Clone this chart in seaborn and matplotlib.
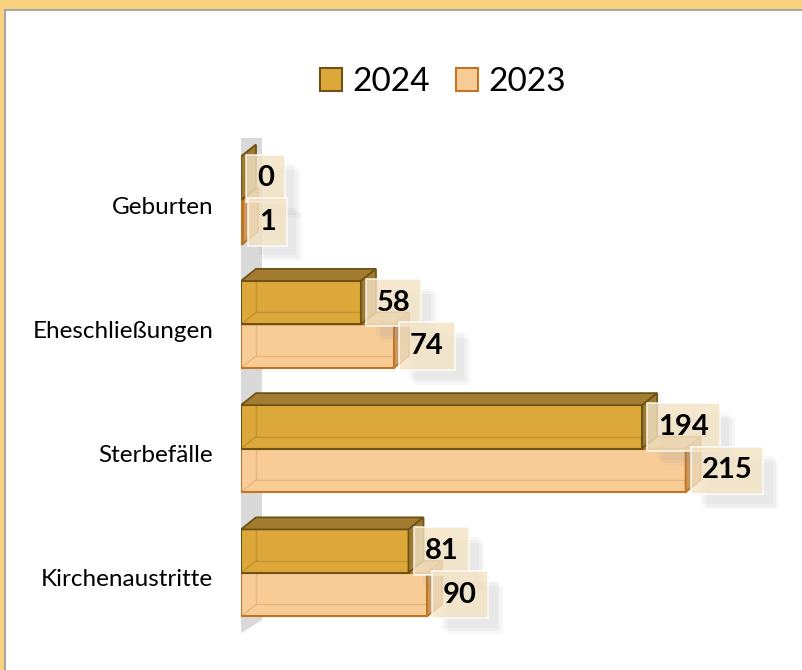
import matplotlib
matplotlib.use("Agg")
import matplotlib.pyplot as plt
import numpy as np
import pandas as pd
import seaborn as sns
from matplotlib.patches import Polygon, Rectangle, Patch
from matplotlib.transforms import IdentityTransform, ScaledTranslation
import matplotlib.patheffects as pe

# ---- data ----
categories = ["Geburten", "Eheschließungen", "Sterbefälle", "Kirchenaustritte"]
years = ["2024", "2023"]
values_2024 = [0, 58, 194, 81]
values_2023 = [1, 74, 215, 90]

df = pd.DataFrame({
    "Kategorie": categories * 2,
    "Jahr": ["2024"] * len(categories) + ["2023"] * len(categories),
    "Wert": values_2024 + values_2023,
})

# ---- style ----
sns.set_style("white")
plt.rcParams["font.family"] = ["Lato", "DejaVu Sans"]
plt.rcParams["text.color"] = "black"

W, H = 803, 670
DPI = 100
fig = plt.figure(figsize=(W / DPI, H / DPI), dpi=DPI, facecolor="#FAD27F")
# white chart area with thin grey frame
fig.add_artist(Rectangle((5.5 / W, -0.05), 1.0, (H - 9.5) / H + 0.05,
                         transform=fig.transFigure, facecolor="white",
                         edgecolor="#A6A6A6", linewidth=1.5, zorder=-5))

front = {"2024": "#DDA83A", "2023": "#F8CC97"}
edge = {"2024": "#6E5215", "2023": "#C27422"}
top_c = {"2024": "#A27C31", "2023": "#DDAE72"}
side_c = {"2024": "#9E7A30", "2023": "#C9985C"}

ax = fig.add_axes([241 / W, (H - 635) / H, (758 - 241) / W, (635 - 138) / H])
ax.patch.set_alpha(0)

sns.barplot(data=df, y="Kategorie", x="Wert", hue="Jahr", hue_order=years,
            order=categories, palette=front, width=0.7, orient="h",
            saturation=1, legend=False, ax=ax)

ax.set_xlim(0, 250)
ax.set_ylim(3.5, -0.5)
for s in ax.spines.values():
    s.set_visible(False)
ax.set_xticks([])
ax.set_xlabel("")
ax.set_ylabel("")
ax.tick_params(axis="y", length=0, pad=20, labelsize=17.5, labelcolor="#000000")
for lab in ax.get_yticklabels():
    lab.set_transform(lab.get_transform() + ScaledTranslation(0, -5 / DPI, fig.dpi_scale_trans))

# grey side wall (style element)
x0d = ax.transData.transform((0, 0))[0]
wall = Polygon([(x0d - 3, H - 635), (x0d - 3, H - 140), (x0d + 21, H - 125), (x0d + 21, H - 620)],
               closed=True, transform=IdentityTransform(), facecolor="#D9D9D9",
               edgecolor="none", zorder=0.2)
ax.add_artist(wall)

dx, dy = 15, 12
zbase = {"2023": 1.0, "2024": 2.0}
for cont, yr in zip(ax.containers, years):
    vals = values_2024 if yr == "2024" else values_2023
    for p, v in zip(cont.patches, vals):
        z = zbase[yr]
        p.set_edgecolor(edge[yr])
        p.set_linewidth(1.5)
        p.set_zorder(z)
        xa, ya = p.get_x(), p.get_y()
        xb, yb = xa + p.get_width(), ya + p.get_height()
        (X0, Ytop), (X1, Ybot) = ax.transData.transform([(xa, ya), (xb, yb)])
        # top face
        ax.add_artist(Polygon([(X0, Ytop), (X1, Ytop), (X1 + dx, Ytop + dy), (X0 + dx, Ytop + dy)],
                              closed=True, transform=IdentityTransform(), facecolor=top_c[yr],
                              edgecolor=edge[yr], linewidth=1.3, zorder=z + 0.1))
        # side face
        ax.add_artist(Polygon([(X1, Ytop), (X1, Ybot), (X1 + dx, Ybot + dy), (X1 + dx, Ytop + dy)],
                              closed=True, transform=IdentityTransform(), facecolor=side_c[yr],
                              edgecolor=edge[yr], linewidth=1.3, zorder=z + 0.1))
        # back edges seen through the translucent front
        if X1 - X0 > dx:
            ax.add_artist(plt.Line2D([X0 + dx, X0 + dx, X1], [Ytop, Ybot + dy, Ybot + dy],
                                     transform=IdentityTransform(), color=edge[yr],
                                     alpha=0.25, linewidth=1, zorder=z + 0.05))
            ax.add_artist(plt.Line2D([X0, X0 + dx], [Ybot, Ybot + dy],
                                     transform=IdentityTransform(), color=edge[yr],
                                     alpha=0.25, linewidth=1, zorder=z + 0.05))
        # value label with soft shadowed box
        yc = (ya + yb) / 2
        t = ax.annotate(str(v), xy=(v, yc), xytext=(16, 0), textcoords="offset pixels",
                        ha="left", va="center", fontsize=21, fontweight="bold", color="black",
                        bbox=dict(boxstyle="square,pad=0.37", facecolor="#F3E3C4", alpha=0.8,
                                  edgecolor="#FFFFFF", linewidth=1.2), zorder=5)
        t.get_bbox_patch().set_path_effects([
            pe.SimplePatchShadow(offset=(11, -11), shadow_rgbFace="#9A9A9A", alpha=0.07),
            pe.SimplePatchShadow(offset=(9, -9), shadow_rgbFace="#9A9A9A", alpha=0.08),
            pe.SimplePatchShadow(offset=(7, -7), shadow_rgbFace="#9A9A9A", alpha=0.08),
            pe.Normal()])

handles = [Patch(facecolor=front[y], edgecolor=edge[y], linewidth=1.5, label=y) for y in years]
leg = fig.legend(handles=handles, loc="center", bbox_to_anchor=(443 / W, 1 - 82 / H), ncol=2,
                 frameon=False, fontsize=24, handlelength=0.66, handleheight=0.7,
                 handletextpad=0.3, columnspacing=0.8)
for txt in leg.get_texts():
    txt.set_color("black")

fig.savefig("out.png", dpi=DPI, facecolor=fig.get_facecolor())
